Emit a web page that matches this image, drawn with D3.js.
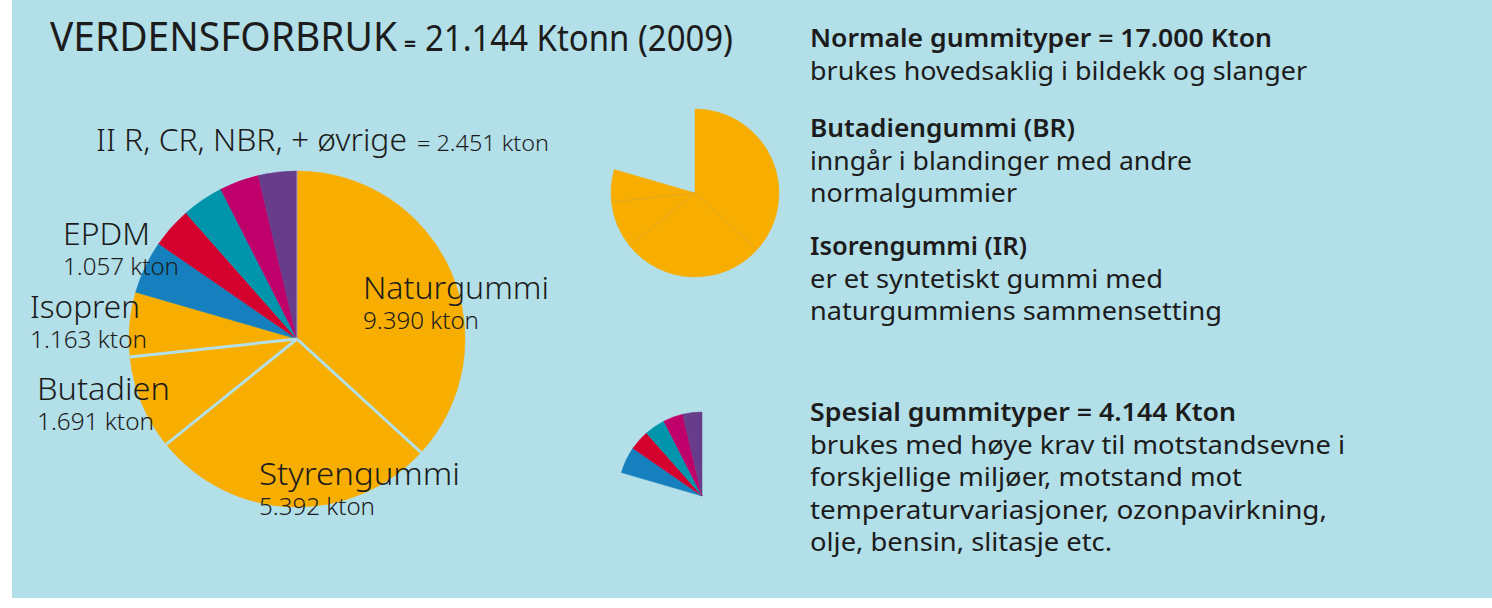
<!DOCTYPE html>
<html>
<head>
<meta charset="utf-8">
<script src="https://cdn.jsdelivr.net/npm/d3@7"></script>
<style>
  body { margin: 0; background: #fff; }
  svg { display: block; }
</style>
</head>
<body>
<svg id="chart" width="1492" height="608"></svg>
<script>
// rubber types, clockwise from 12 o'clock
const types = ["Naturgummi", "Styrengummi", "Butadien", "Isopren", "EPDM", "IIR", "CR", "NBR", "øvrige"];
const ktonText = ["9.390 kton", "5.392 kton", "1.691 kton", "1.163 kton", "1.057 kton"];
// slice sizes as they are drawn in the picture (% of circle)
const shares = [36.8, 27.4, 9.1, 6.2, 5.1, 3.9, 4.0, 3.8, 3.7];
const groups = ["normal", "normal", "normal", "normal", "spesial", "spesial", "spesial", "spesial", "spesial"];
const colors = ["#f7ae00", "#f7ae00", "#f7ae00", "#f7ae00", "#1580bd", "#d4002e", "#0095aa", "#bf006a", "#663c8b"];

const titleMain = "VERDENSFORBRUK";
const titleTotal = "21.144 Ktonn (2009)";
const otherLabel = "II R, CR, NBR, + øvrige";
const otherValue = "= 2.451 kton";

// right hand text blocks: header + body lines
const infoBlocks = [
  { head: "Normale gummityper = 17.000 Kton", lines: ["brukes hovedsaklig i bildekk og slanger"] },
  { head: "Butadiengummi (BR)", lines: ["inngår i blandinger med andre", "normalgummier"] },
  { head: "Isorengummi (IR)", lines: ["er et syntetiskt gummi med", "naturgummiens sammensetting"] },
  { head: "Spesial gummityper = 4.144 Kton", lines: ["brukes med høye krav til motstandsevne i", "forskjellige miljøer, motstand mot", "temperaturvariasjoner, ozonpavirkning,", "olje, bensin, slitasje etc."] }
];

const bg = "#b3dfe8";
const ink = "#1c1c1c";
const font = "'Noto Sans', 'DejaVu Sans', sans-serif";

const svg = d3.select("#chart");

svg.append("rect")
  .attr("x", 12).attr("y", 0)
  .attr("width", 1480).attr("height", 598)
  .attr("fill", bg);

// helper for text that must fit a measured width
function txt(x, y, s, size, weight, width) {
  const t = svg.append("text")
    .attr("x", x).attr("y", y)
    .attr("font-family", font)
    .attr("font-size", size)
    .attr("font-weight", weight)
    .attr("fill", ink)
    .text(s);
  if (width) t.attr("textLength", width).attr("lengthAdjust", "spacingAndGlyphs");
  return t;
}

// Title
txt(50, 51, titleMain, 40, 400, 347);
txt(404, 51, "=", 22, 700, 12);
txt(425, 51, titleTotal, 36, 400, 308);

// Pie layout
const pie = d3.pie().sort(null).value(d => d)(shares);

function drawPie(cx, cy, r, filter, sepColor, sepWidth) {
  const g = svg.append("g").attr("transform", `translate(${cx},${cy})`);
  const arc = d3.arc().innerRadius(0).outerRadius(r);
  const arcs = pie.filter((d, i) => filter(i));

  g.selectAll("path")
    .data(arcs)
    .enter()
    .append("path")
    .attr("d", arc)
    .attr("fill", d => colors[d.index])
    .attr("stroke", d => colors[d.index])
    .attr("stroke-width", 0.5);

  // separator lines between the normal (orange) slices
  const seps = pie.filter((d, i) => filter(i) && i > 0 && groups[i] === "normal" && groups[i - 1] === "normal")
    .map(d => d.startAngle);
  g.selectAll("line.sep")
    .data(seps)
    .enter()
    .append("line")
    .attr("class", "sep")
    .attr("x1", 0).attr("y1", 0)
    .attr("x2", a => r * Math.sin(a))
    .attr("y2", a => -r * Math.cos(a))
    .attr("stroke", sepColor)
    .attr("stroke-width", sepWidth);
  return g;
}

// main pie
const main = drawPie(297, 339, 168, () => true, bg, 3);
// thin light line at 12 o'clock
main.append("line")
  .attr("x1", 0).attr("y1", 0)
  .attr("x2", 0).attr("y2", -168)
  .attr("stroke", "#c9b9d6").attr("stroke-width", 0.8);

// exploded groups
drawPie(695, 193, 84, i => groups[i] === "normal", "#dca52a", 0.8);
drawPie(702, 496, 84, i => groups[i] === "spesial", bg, 0);

// pie labels
const labelPos = [
  { x: 363, y: 299, w: 186, vw: 116 },
  { x: 259, y: 485, w: 201, vw: 116 },
  { x: 37, y: 400, w: 133, vw: 117 },
  { x: 30, y: 318, w: 110, vw: 117 },
  { x: 63, y: 245, w: 87, vw: 116 }
];
labelPos.forEach((p, i) => {
  txt(p.x, p.y, types[i], 31, 300, p.w);
  txt(p.x, p.y + 30, ktonText[i], 23, 300, p.vw);
});
txt(96, 151, otherLabel, 32, 300, 311);
txt(417, 151, otherValue, 22, 300, 132);

// right hand text
const infoTop = [47, 137, 255, 421];
const lineH = 32.5;
const headW = [462, 265, 217, 426];
const lineW = [[497], [382, 207], [353, 412], [535, 432, 517, 302]];
infoBlocks.forEach((b, i) => {
  txt(810, infoTop[i], b.head, 25, 600, headW[i]);
  b.lines.forEach((l, j) => {
    txt(810, infoTop[i] + lineH * (j + 1), l, 25, 400, lineW[i][j]);
  });
});
</script>
</body>
</html>
